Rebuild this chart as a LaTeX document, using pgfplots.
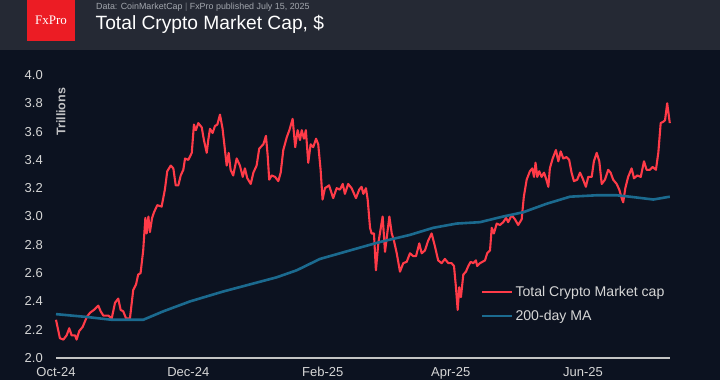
\documentclass[border=0pt]{standalone}
\usepackage{pgfplots}
\pgfplotsset{compat=1.18}
\usepackage{fontspec}
\setmainfont{Liberation Sans}
\newfontfamily\seriffont{Liberation Serif}
\definecolor{bgmain}{HTML}{0C1220}
\definecolor{bghead}{HTML}{252934}
\definecolor{fxred}{HTML}{EC1C24}
\definecolor{capred}{HTML}{FF3B48}
\definecolor{mablue}{HTML}{1B6A8F}
\definecolor{ticktext}{HTML}{D6D6D6}
\definecolor{subtext}{HTML}{A3A7AE}
\definecolor{axisgray}{HTML}{C4C4C4}
\begin{document}
\begin{tikzpicture}[x=1pt,y=1pt]
\useasboundingbox (0,0) rectangle (720,380);
\fill[bgmain] (0,0) rectangle (720,380);
\fill[bghead] (0,330) rectangle (720,380);
\fill[fxred] (27,339) rectangle (75,380);
\node[white, inner sep=0pt, font=\seriffont\fontsize{13}{13}\selectfont] at (51,360) {FxPro};
\node[anchor=base west, inner sep=0pt, text=subtext, font=\fontsize{8.9}{8.9}\selectfont] at (96,370.5) {Data: CoinMarketCap \textcolor{subtext!60!bghead}{|} FxPro published July 15, 2025};
\node[anchor=base west, inner sep=0pt, text=white, font=\fontsize{19.2}{19.2}\selectfont] at (95.5,350.5) {Total Crypto Market Cap, \$};
\begin{axis}[
  at={(56pt,22pt)}, anchor=south west, scale only axis,
  width=613.8pt, height=283pt,
  xmin=0, xmax=283, ymin=2, ymax=4,
  axis lines=left,
  axis line style={-},
  y axis line style={draw=none},
  x axis line style={axisgray, line width=2pt},
  major tick length=0pt,
  xtick={0,61,123,182,243},
  xticklabels={Oct-24,Dec-24,Feb-25,Apr-25,Jun-25},
  ytick={2,2.2,2.4,2.6,2.8,3,3.2,3.4,3.6,3.8,4},
  /pgf/number format/assume math mode=true,
  yticklabel={\pgfmathprintnumber[fixed,fixed zerofill,precision=1]{\tick}},
  every y tick label/.append style={anchor=east, inner sep=0pt, xshift=-13pt, text=ticktext, font=\fontsize{13}{13}\selectfont},
  every x tick label/.append style={anchor=north, inner sep=0pt, yshift=-9pt, text=ticktext, font=\fontsize{13}{13}\selectfont},
  clip=false,
  legend style={at={(axis description cs:0.692,0.262)}, anchor=north west, draw=none, fill=none, text=ticktext, font=\fontsize{14.1}{14.1}\selectfont, row sep=8.5pt, inner sep=0pt},
  legend cell align=left,
  legend image code/.code={\draw[#1] (0pt,0pt) -- (30pt,0pt);},
]
\addplot[capred, line width=2.1pt, line join=round] coordinates {
(0,2.27) (1.8,2.14) (3.4,2.13) (4.9,2.16) (6.1,2.21) (7.2,2.16) (8.8,2.16) (9.5,2.13)
(10.7,2.19) (12.3,2.22) (14.2,2.29) (15.7,2.32) (17.5,2.34) (19.5,2.37) (20.6,2.33)
(21.8,2.30) (24.1,2.30) (25.7,2.28) (27.2,2.39) (28.7,2.42) (29.8,2.34) (31.0,2.33)
(32.3,2.28) (34.1,2.28) (35.6,2.48) (36.9,2.52) (37.9,2.59) (39.0,2.60) (40.2,2.76)
(41.2,2.99) (41.8,2.88) (42.6,3.00) (43.3,2.89) (44.3,2.99) (45.2,3.03) (46.7,3.08)
(48.7,3.07) (50.2,3.19) (51.3,3.32) (52.9,3.36) (54.1,3.34) (55.2,3.22) (56.4,3.22)
(57.5,3.29) (58.7,3.33) (59.5,3.41) (61.0,3.40) (62.6,3.45) (63.6,3.65) (64.5,3.61)
(65.6,3.66) (67.2,3.63) (68.2,3.54) (69.5,3.45) (70.2,3.54) (71.0,3.62) (72.2,3.59)
(73.3,3.64) (74.4,3.65) (75.6,3.72) (76.8,3.62) (77.9,3.47) (78.7,3.36) (79.6,3.45)
(80.5,3.33) (81.7,3.29) (83.3,3.41) (84.8,3.36) (86.1,3.28) (87.1,3.34) (88.2,3.27)
(89.8,3.23) (91.0,3.31) (92.5,3.36) (93.7,3.48) (95.6,3.51) (96.8,3.57) (97.6,3.43)
(98.3,3.26) (99.4,3.29) (101.0,3.28) (102.5,3.25) (103.6,3.31) (104.8,3.47) (106.4,3.56)
(107.6,3.61) (109.1,3.69) (110.3,3.49) (111.4,3.61) (112.5,3.54) (113.3,3.61) (114.3,3.55)
(115.2,3.61) (116.3,3.38) (117.4,3.51) (118.6,3.49) (119.9,3.55) (120.9,3.51) (122.0,3.33)
(122.9,3.12) (124.0,3.20) (125.9,3.22) (127.8,3.13) (129.4,3.20) (130.9,3.19) (132.2,3.23)
(133.2,3.16) (134.7,3.23) (136.3,3.20) (138.3,3.13) (139.8,3.19) (140.9,3.21) (141.7,3.16)
(142.9,3.20) (143.7,3.12) (144.8,2.92) (145.5,2.88) (146.6,2.88) (147.5,2.62) (148.6,2.81)
(150.6,3.00) (151.7,2.75) (153.7,3.00) (154.8,2.88) (155.8,2.83) (157.1,2.74) (158.6,2.61)
(160.1,2.67) (161.7,2.68) (163.2,2.74) (164.7,2.72) (166.0,2.72) (167.5,2.81) (168.6,2.74)
(170.1,2.76) (171.6,2.83) (173.2,2.88) (174.7,2.79) (176.2,2.69) (177.8,2.67) (179.3,2.70)
(180.9,2.67) (182.4,2.67) (183.5,2.65) (184.4,2.50) (185.2,2.34) (185.9,2.50) (186.7,2.43)
(187.8,2.59) (189.0,2.61) (190.1,2.65) (191.2,2.68) (192.4,2.67) (193.6,2.69) (194.2,2.65)
(195.5,2.67) (197.8,2.69) (198.8,2.74) (200.1,2.76) (200.9,2.92) (201.9,2.88) (203.2,2.95)
(204.7,2.94) (206.2,2.96) (207.5,2.99) (208.5,2.96) (210.1,3.01) (211.6,2.98) (213.1,2.94)
(214.7,2.98) (215.7,3.14) (217.0,3.26) (218.5,3.32) (219.6,3.34) (220.4,3.28) (221.1,3.38)
(221.9,3.28) (222.8,3.32) (223.9,3.28) (225.0,3.31) (225.9,3.27) (227.0,3.21) (227.7,3.34)
(229.0,3.41) (230.5,3.47) (231.6,3.39) (232.7,3.46) (233.9,3.41) (235.4,3.42) (236.6,3.40)
(237.7,3.31) (238.8,3.25) (240.3,3.26) (241.6,3.31) (242.8,3.27) (244.3,3.21) (245.4,3.28)
(247.0,3.28) (248.0,3.39) (249.3,3.45) (250.5,3.39) (251.6,3.23) (253.1,3.26) (254.6,3.33)
(255.7,3.31) (256.9,3.26) (258.5,3.23) (259.7,3.19) (260.8,3.13) (261.5,3.10) (262.5,3.20)
(263.8,3.28) (265.4,3.34) (266.5,3.27) (268.0,3.29) (269.6,3.28) (271.1,3.39) (272.3,3.33)
(273.8,3.33) (275.1,3.35) (276.6,3.33) (277.7,3.45) (278.8,3.66) (280.0,3.67) (280.8,3.68)
(281.8,3.80) (283.0,3.66)
};
\addlegendentry{Total Crypto Market cap}
\addplot[mablue, line width=2.6pt, line join=round] coordinates {
(0,2.31) (14.2,2.29) (25.7,2.27) (34.1,2.27) (40.2,2.27) (49.5,2.33) (61.8,2.40)
(77.1,2.47) (89.4,2.52) (101.7,2.57) (111.0,2.62) (121.7,2.70) (130.9,2.74) (140.1,2.78)
(149.4,2.82) (163.2,2.87) (173.9,2.92) (184.7,2.95) (195.5,2.96) (206.2,3.00) (215.4,3.03)
(226.2,3.09) (237.0,3.14) (249.3,3.15) (258.5,3.15) (264.6,3.14) (275.4,3.12) (283.0,3.14)
};
\addlegendentry{200-day MA}
\node[rotate=90, inner sep=0pt, text=ticktext!90!bgmain, font=\bfseries\fontsize{12.5}{12.5}\selectfont] at (axis cs:2.3,3.74) {Trillions};
\end{axis}
\end{tikzpicture}
\end{document}
